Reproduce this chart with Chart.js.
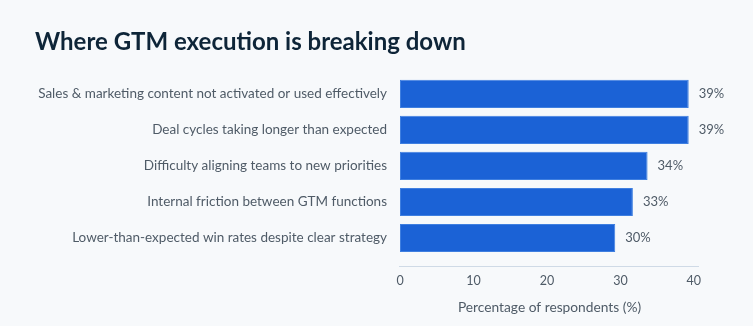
<!DOCTYPE html>
<html>
<head>
<meta charset="utf-8">
<script src="https://cdn.jsdelivr.net/npm/chart.js@4"></script>
<style>
  html, body { margin: 0; padding: 0; background: #f7f9fb; }
  #wrap { width: 753px; height: 326px; }
</style>
</head>
<body>
<div id="wrap"><canvas id="myChart"></canvas></div>
<script>
// data
const categories = [
  'Sales & marketing content not activated or used effectively',
  'Deal cycles taking longer than expected',
  'Difficulty aligning teams to new priorities',
  'Internal friction between GTM functions',
  'Lower-than-expected win rates despite clear strategy'
];
const values = [39.3, 39.3, 33.7, 31.7, 29.3];
const valueLabels = ['39%', '39%', '34%', '33%', '30%'];
const xTicks = [0, 10, 20, 30, 40];

const FONT = 'Lato, "Open Sans", sans-serif';
const GREY = '#4f5b67';

// value text at the end of each bar
const barLabels = {
  id: 'barLabels',
  afterDatasetsDraw(chart) {
    const ctx = chart.ctx;
    const meta = chart.getDatasetMeta(0);
    ctx.save();
    ctx.font = '13px ' + FONT;
    ctx.fillStyle = GREY;
    ctx.textBaseline = 'middle';
    ctx.textAlign = 'left';
    meta.data.forEach((bar, i) => {
      ctx.fillText(valueLabels[i], bar.x + 10, bar.y);
    });
    ctx.restore();
  }
};

// thin axis line a little below the bars
const axisLine = {
  id: 'axisLine',
  beforeDatasetsDraw(chart) {
    const a = chart.chartArea;
    const ctx = chart.ctx;
    ctx.save();
    ctx.strokeStyle = '#cfdae6';
    ctx.lineWidth = 1;
    ctx.beginPath();
    ctx.moveTo(a.left - 1, a.bottom + 10.5);
    ctx.lineTo(a.right, a.bottom + 10.5);
    ctx.stroke();
    ctx.restore();
  }
};

const ctx = document.getElementById('myChart');
new Chart(ctx, {
  type: 'bar',
  data: {
    labels: categories,
    datasets: [{
      data: values,
      backgroundColor: '#1b62d6',
      borderColor: '#3f7fe0',
      borderWidth: 1,
      borderSkipped: false,
      barPercentage: 0.78,
      categoryPercentage: 1
    }]
  },
  options: {
    indexAxis: 'y',
    responsive: true,
    maintainAspectRatio: false,
    animation: false,
    layout: { padding: { left: 35, right: 54, top: 0, bottom: 6 } },
    plugins: {
      legend: { display: false },
      tooltip: { enabled: false },
      title: {
        display: true,
        text: 'Where GTM execution is breaking down',
        align: 'start',
        color: '#0e2538',
        font: { family: FONT, size: 24, weight: 'bold' },
        padding: { top: 28, bottom: 19 }
      }
    },
    scales: {
      x: {
        min: 0,
        max: 40.7,
        afterBuildTicks: (scale) => {
          scale.ticks = xTicks.map(v => ({ value: v }));
        },
        afterFit: (scale) => { scale.height = 64; },
        grid: { display: false, drawTicks: false },
        border: { display: false },
        ticks: {
          color: GREY,
          padding: 17,
          font: { family: FONT, size: 12.5 }
        },
        title: {
          display: true,
          text: 'Percentage of respondents (%)',
          color: GREY,
          font: { family: FONT, size: 13.75 },
          padding: { top: 4, bottom: 4 }
        }
      },
      y: {
        afterFit: (scale) => { scale.width = 365; },
        grid: { display: false, drawTicks: false },
        border: { display: false },
        ticks: {
          color: GREY,
          padding: 13,
          font: { family: FONT, size: 13.5 }
        }
      }
    }
  },
  plugins: [barLabels, axisLine]
});
</script>
</body>
</html>
